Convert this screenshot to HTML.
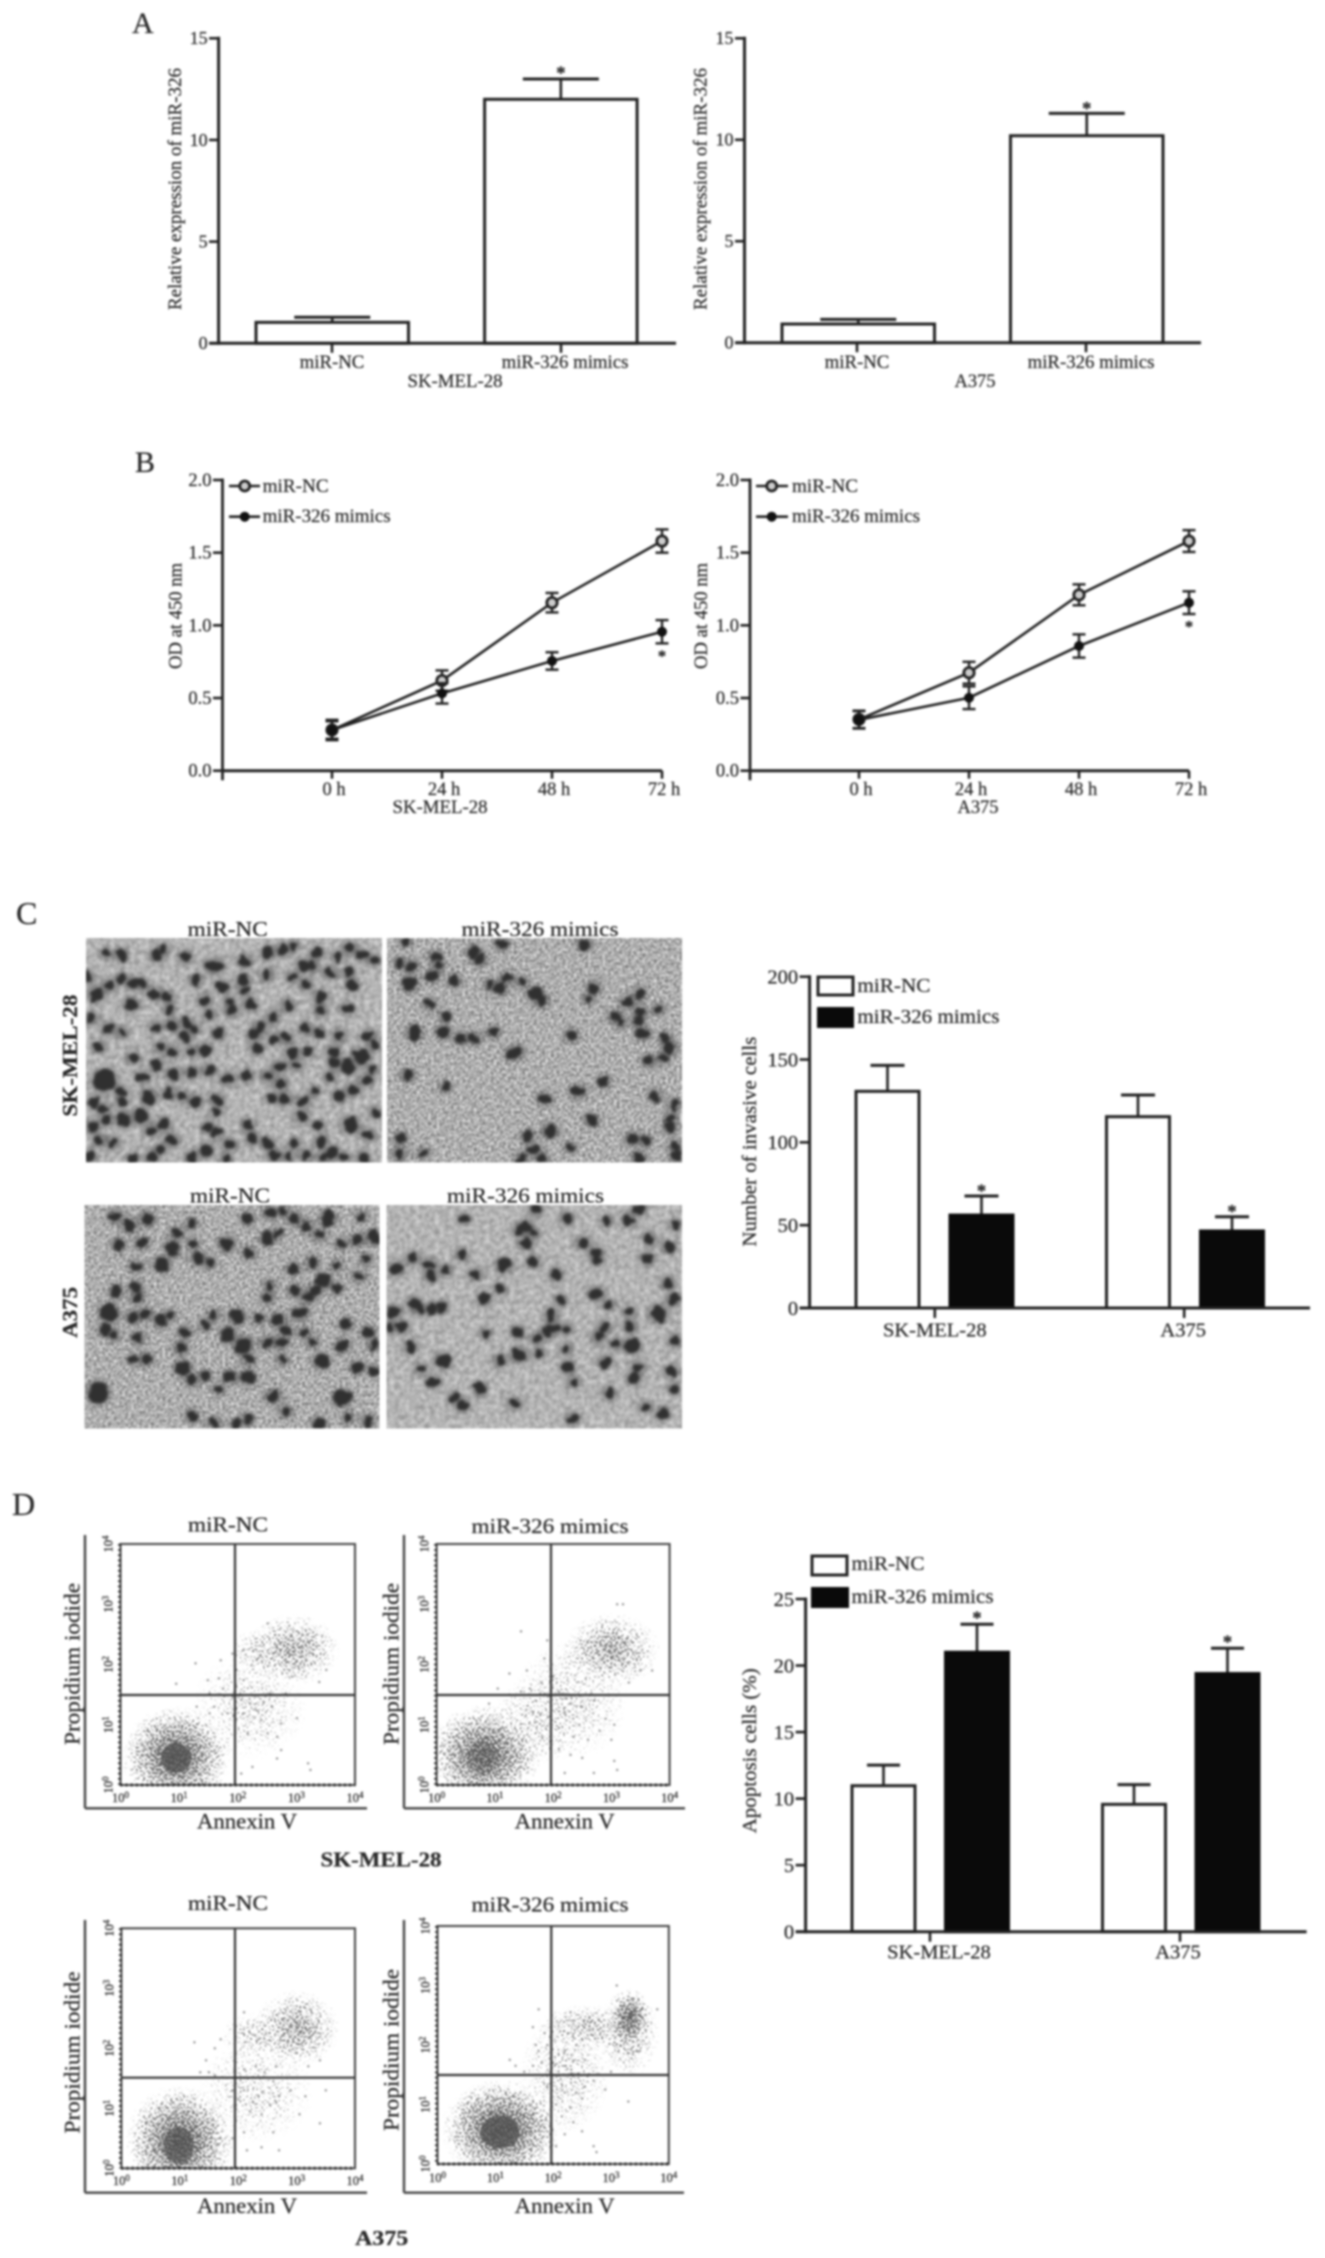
<!DOCTYPE html>
<html lang="en">
<head>
<meta charset="utf-8">
<title>miR-326 mimics: expression, proliferation, invasion and apoptosis</title>
<style>
html,body{margin:0;padding:0;background:#fff}
svg{display:block}
text{font-family:"Liberation Serif",serif;fill:#2a2a2a;stroke:#2a2a2a;stroke-width:0.25}
</style>
</head>
<body>
<svg id="figure" width="1325" height="2258" viewBox="0 0 1325 2258">
<defs>
  <filter id="soft" filterUnits="userSpaceOnUse" x="0" y="0" width="1325" height="2258" color-interpolation-filters="sRGB"><feGaussianBlur stdDeviation="0.95"/></filter>
  <filter id="cellBlur" filterUnits="userSpaceOnUse" x="0" y="900" width="700" height="560" color-interpolation-filters="sRGB">
    <feTurbulence type="fractalNoise" baseFrequency="0.09" numOctaves="2" seed="3" result="w"/>
    <feDisplacementMap in="SourceGraphic" in2="w" scale="8" xChannelSelector="R" yChannelSelector="G"/>
    <feGaussianBlur stdDeviation="1.1"/>
  </filter>
  <filter id="haloBlur" filterUnits="userSpaceOnUse" x="0" y="900" width="700" height="560" color-interpolation-filters="sRGB"><feGaussianBlur stdDeviation="2.5"/></filter>
  <filter id="texSmooth" x="0" y="0" width="100%" height="100%" color-interpolation-filters="sRGB">
    <feTurbulence type="fractalNoise" baseFrequency="0.2" numOctaves="2" seed="4"/>
    <feColorMatrix type="matrix" values="0.35 0 0 0 0.53  0.35 0 0 0 0.53  0.35 0 0 0 0.53  0 0 0 0 1"/>
  </filter>
  <filter id="texGrain" x="0" y="0" width="100%" height="100%" color-interpolation-filters="sRGB">
    <feTurbulence type="fractalNoise" baseFrequency="0.35" numOctaves="2" seed="9"/>
    <feColorMatrix type="matrix" values="0.7 0 0 0 0.33  0.7 0 0 0 0.33  0.7 0 0 0 0.33  0 0 0 0 1"/>
  </filter>
  <filter id="speckle" x="-5%" y="-5%" width="110%" height="110%" color-interpolation-filters="sRGB">
    <feTurbulence type="fractalNoise" baseFrequency="0.55" numOctaves="1" seed="7" result="n"/>
    <feColorMatrix in="n" type="matrix" values="0 0 0 0 0  0 0 0 0 0  0 0 0 0 0  3 0 0 0 -1" result="m"/>
    <feComposite in="SourceAlpha" in2="m" operator="arithmetic" k1="0" k2="1" k3="1" k4="-1" result="c"/>
    <feColorMatrix in="c" type="matrix" values="0 0 0 0 0.36  0 0 0 0 0.36  0 0 0 0 0.36  0 0 0 3 0"/>
  </filter>
  <radialGradient id="density">
    <stop offset="0" stop-color="#000" stop-opacity="1"/>
    <stop offset="0.35" stop-color="#000" stop-opacity="0.78"/>
    <stop offset="0.7" stop-color="#000" stop-opacity="0.42"/>
    <stop offset="1" stop-color="#000" stop-opacity="0"/>
  </radialGradient>
</defs>

<g id="art" filter="url(#soft)">
  <rect x="0" y="0" width="1325" height="2258" fill="#fff"/>

  <!-- Panel letters -->
  <text x="132" y="33" font-size="30">A</text>
  <text x="135" y="472" font-size="30">B</text>
  <text x="16" y="924" font-size="32">C</text>
  <text x="12" y="1515" font-size="32">D</text>

  <!-- Panel A titles -->
  <text transform="translate(181,189) rotate(-90)" text-anchor="middle" font-size="19" textLength="242" lengthAdjust="spacingAndGlyphs">Relative expression of miR-326</text>
  <text x="455" y="387" text-anchor="middle" font-size="19" textLength="95" lengthAdjust="spacingAndGlyphs">SK-MEL-28</text>
  <text transform="translate(706.5,189) rotate(-90)" text-anchor="middle" font-size="19" textLength="242" lengthAdjust="spacingAndGlyphs">Relative expression of miR-326</text>
  <text x="975" y="387" text-anchor="middle" font-size="19" textLength="41" lengthAdjust="spacingAndGlyphs">A375</text>

  <!-- Panel B titles and legends -->
  <text transform="translate(181.5,616) rotate(-90)" text-anchor="middle" font-size="19" textLength="106" lengthAdjust="spacingAndGlyphs">OD at 450 nm</text>
  <text x="440" y="813" text-anchor="middle" font-size="19" textLength="95" lengthAdjust="spacingAndGlyphs">SK-MEL-28</text>
  <text transform="translate(707,616) rotate(-90)" text-anchor="middle" font-size="19" textLength="106" lengthAdjust="spacingAndGlyphs">OD at 450 nm</text>
  <text x="978" y="813" text-anchor="middle" font-size="19" textLength="41" lengthAdjust="spacingAndGlyphs">A375</text>

  <g>
    <line x1="229" y1="486" x2="260" y2="486" stroke="#222" stroke-width="2.6"/>
    <circle cx="244.7" cy="486" r="5" fill="#ccc" stroke="#222" stroke-width="2.8"/>
    <text x="262.6" y="492" font-size="19" textLength="66" lengthAdjust="spacingAndGlyphs">miR-NC</text>
    <line x1="229" y1="516.7" x2="260" y2="516.7" stroke="#222" stroke-width="2.6"/>
    <circle cx="244.7" cy="516.7" r="5" fill="#111"/>
    <text x="262.6" y="522" font-size="19" textLength="128" lengthAdjust="spacingAndGlyphs">miR-326 mimics</text>
  </g>
  <g>
    <line x1="756" y1="486" x2="788" y2="486" stroke="#222" stroke-width="2.6"/>
    <circle cx="771.7" cy="486" r="5" fill="#ccc" stroke="#222" stroke-width="2.8"/>
    <text x="792" y="492" font-size="19" textLength="66" lengthAdjust="spacingAndGlyphs">miR-NC</text>
    <line x1="756" y1="516.7" x2="788" y2="516.7" stroke="#222" stroke-width="2.6"/>
    <circle cx="771.7" cy="516.7" r="5" fill="#111"/>
    <text x="792" y="522" font-size="19" textLength="128" lengthAdjust="spacingAndGlyphs">miR-326 mimics</text>
  </g>

  <!-- Panel C labels -->
  <text x="227.7" y="936" text-anchor="middle" font-size="21" textLength="80" lengthAdjust="spacingAndGlyphs">miR-NC</text>
  <text x="540" y="936" text-anchor="middle" font-size="21" textLength="157" lengthAdjust="spacingAndGlyphs">miR-326 mimics</text>
  <text x="230" y="1202.6" text-anchor="middle" font-size="21" textLength="80" lengthAdjust="spacingAndGlyphs">miR-NC</text>
  <text x="525.5" y="1202.6" text-anchor="middle" font-size="21" textLength="157" lengthAdjust="spacingAndGlyphs">miR-326 mimics</text>
  <text transform="translate(77,1055.6) rotate(-90)" text-anchor="middle" font-size="21" font-weight="bold" textLength="122" lengthAdjust="spacingAndGlyphs">SK-MEL-28</text>
  <text transform="translate(77,1312.4) rotate(-90)" text-anchor="middle" font-size="21" font-weight="bold" textLength="51" lengthAdjust="spacingAndGlyphs">A375</text>

  <!-- Panel C bar chart titles and legend -->
  <text transform="translate(755.8,1141.7) rotate(-90)" text-anchor="middle" font-size="20.5" textLength="210" lengthAdjust="spacingAndGlyphs">Number of invasive cells</text>
  <g>
    <rect x="818" y="977" width="35" height="18" fill="#fff" stroke="#222" stroke-width="3"/>
    <text x="857.4" y="992" font-size="20.5" textLength="73" lengthAdjust="spacingAndGlyphs">miR-NC</text>
    <rect x="817" y="1007" width="37" height="21" fill="#0a0a0a"/>
    <text x="857.4" y="1023" font-size="20.5" textLength="142" lengthAdjust="spacingAndGlyphs">miR-326 mimics</text>
  </g>

  <!-- Panel D bar chart titles and legend -->
  <text transform="translate(755.8,1750.8) rotate(-90)" text-anchor="middle" font-size="20.5" textLength="165" lengthAdjust="spacingAndGlyphs">Apoptosis cells (%)</text>
  <g>
    <rect x="812" y="1556" width="35" height="19" fill="#fff" stroke="#222" stroke-width="3"/>
    <text x="851.5" y="1570" font-size="20.5" textLength="73" lengthAdjust="spacingAndGlyphs">miR-NC</text>
    <rect x="811" y="1587" width="38" height="21" fill="#0a0a0a"/>
    <text x="851.5" y="1603" font-size="20.5" textLength="142" lengthAdjust="spacingAndGlyphs">miR-326 mimics</text>
  </g>

  <!-- Panel D flow labels -->
  <text x="228" y="1531.7" text-anchor="middle" font-size="21" textLength="80" lengthAdjust="spacingAndGlyphs">miR-NC</text>
  <text x="550" y="1533" text-anchor="middle" font-size="21" textLength="157" lengthAdjust="spacingAndGlyphs">miR-326 mimics</text>
  <text x="228" y="1910" text-anchor="middle" font-size="21" textLength="80" lengthAdjust="spacingAndGlyphs">miR-NC</text>
  <text x="550" y="1911.7" text-anchor="middle" font-size="21" textLength="157" lengthAdjust="spacingAndGlyphs">miR-326 mimics</text>
  <text transform="translate(79.5,1664) rotate(-90)" text-anchor="middle" font-size="22" textLength="162" lengthAdjust="spacingAndGlyphs">Propidium  iodide</text>
  <text transform="translate(398.7,1664) rotate(-90)" text-anchor="middle" font-size="22" textLength="162" lengthAdjust="spacingAndGlyphs">Propidium  iodide</text>
  <text transform="translate(79.5,2052.5) rotate(-90)" text-anchor="middle" font-size="22" textLength="162" lengthAdjust="spacingAndGlyphs">Propidium  iodide</text>
  <text transform="translate(398.7,2050) rotate(-90)" text-anchor="middle" font-size="22" textLength="162" lengthAdjust="spacingAndGlyphs">Propidium  iodide</text>
  <text x="247" y="1828.3" text-anchor="middle" font-size="22" textLength="100" lengthAdjust="spacingAndGlyphs">Annexin V</text>
  <text x="564.7" y="1828.3" text-anchor="middle" font-size="22" textLength="100" lengthAdjust="spacingAndGlyphs">Annexin V</text>
  <text x="247" y="2213" text-anchor="middle" font-size="22" textLength="100" lengthAdjust="spacingAndGlyphs">Annexin V</text>
  <text x="564.7" y="2213" text-anchor="middle" font-size="22" textLength="100" lengthAdjust="spacingAndGlyphs">Annexin V</text>
  <text x="381" y="1866.7" text-anchor="middle" font-size="21" font-weight="bold" textLength="121" lengthAdjust="spacingAndGlyphs">SK-MEL-28</text>
  <text x="381.7" y="2245" text-anchor="middle" font-size="21" font-weight="bold" textLength="53" lengthAdjust="spacingAndGlyphs">A375</text>

  <g id="dynamic"></g>
</g>
</svg>

<script>
/* ---------- Chart data ---------- */
const exprCategories = ['miR-NC', 'miR-326 mimics'];
const exprTicks = [0, 5, 10, 15];
const exprSkMel = [1.03, 12.0];
const exprSkMelSd = [0.25, 1.0];
const exprA375 = [0.92, 10.2];
const exprA375Sd = [0.23, 1.1];

const odTimes = ['0 h', '24 h', '48 h', '72 h'];
const odTicks = ['0.0', '0.5', '1.0', '1.5', '2.0'];
const odSkMelNc = [0.28, 0.62, 1.156, 1.58];
const odSkMelNcSd = [0.06, 0.07, 0.067, 0.08];
const odSkMelMimics = [0.28, 0.532, 0.755, 0.956];
const odSkMelMimicsSd = [0.07, 0.07, 0.06, 0.08];
const odA375Nc = [0.353, 0.674, 1.21, 1.58];
const odA375NcSd = [0.06, 0.075, 0.072, 0.075];
const odA375Mimics = [0.35, 0.502, 0.858, 1.156];
const odA375MimicsSd = [0.06, 0.078, 0.08, 0.078];

const cellLines = ['SK-MEL-28', 'A375'];
const invasionTicks = [0, 50, 100, 150, 200];
const invasionNc = [130.8, 115.5];
const invasionNcSd = [15.7, 13.1];
const invasionMimics = [56.1, 46.5];
const invasionMimicsSd = [11.5, 8.6];

const apoptosisTicks = [0, 5, 10, 15, 20, 25];
const apoptosisNc = [10.97, 9.57];
const apoptosisNcSd = [1.55, 1.48];
const apoptosisMimics = [21.0, 19.4];
const apoptosisMimicsSd = [2.1, 1.9];

const flowExponents = [0, 1, 2, 3, 4];

/* flow populations: log10 annexin / log10 PI centre, log10 spread, relative density */
const flowTLCentreX = [0.95, 0.95, 2.95, 2.4, 2.2];
const flowTLCentreY = [0.47, 0.45, 2.25, 2.2, 1.3];
const flowTLSpreadX = [0.95, 0.42, 0.8, 0.55, 1.0];
const flowTLSpreadY = [0.85, 0.40, 0.6, 0.4, 0.9];
const flowTLDensity = [0.95, 1, 0.6, 0.42, 0.3];
const flowTLAnnexin = [1.28,0.95,1.49,1.68,1.71,1.91,2.10,1.98,2.10,1.52,1.75,1.91,2.06,2.21,2.44,2.59,2.10,2.32,2.40,2.74,3.01,2.51,2.67,2.74,2.67,2.25,3.20,3.24,2.06,2.17,1.30,1.52,1.60,1.83,3.39,3.51,2.93,2.51,2.55,2.82];
const flowTLPi = [2.02,1.68,1.74,1.77,2.07,2.18,2.24,1.91,1.74,1.52,1.60,1.47,1.41,1.35,1.38,1.30,1.19,1.24,1.08,1.02,1.11,0.86,0.80,0.58,0.44,0.30,0.36,0.25,0.19,0.86,1.30,1.19,1.30,1.19,1.71,1.91,1.80,2.68,1.52,1.52];

const flowTRCentreX = [0.82, 0.8, 3.0, 1.7, 3.1, 2.3];
const flowTRCentreY = [0.5, 0.45, 2.24, 1.05, 2.35, 1.4];
const flowTRSpreadX = [1.0, 0.45, 0.85, 0.75, 0.32, 1.0];
const flowTRSpreadY = [0.85, 0.42, 0.62, 0.75, 0.35, 1.0];
const flowTRDensity = [0.92, 0.85, 0.62, 0.36, 0.55, 0.32];
const flowTRAnnexin = [1.45,1.9,1.85,1.55,1.25,1.05,0.9,1.25,1.45,1.6,1.7,1.8,2.0,2.1,2.2,2.3,2.45,2.5,2.7,2.9,2.1,2.35,2.6,2.8,3.0,3.05,3.1,3.05,3.1,3.2,2.1,2.3,2.5,2.7,2.2,3.5,3.3,3.7];
const flowTRPi = [2.55,2.4,2.1,1.9,1.85,1.6,1.35,1.5,1.55,1.6,1.4,1.7,1.8,1.55,1.2,1.35,1.0,1.3,1.4,1.1,0.95,0.8,0.75,0.9,0.75,0.4,0.25,1.0,3.0,3.0,0.6,0.5,0.45,0.2,0.2,1.9,1.7,1.9];

const flowBLCentreX = [1.0, 0.98, 3.0, 2.3, 2.3];
const flowBLCentreY = [0.45, 0.38, 2.33, 2.2, 1.3];
const flowBLSpreadX = [0.95, 0.42, 0.75, 0.6, 1.0];
const flowBLSpreadY = [0.95, 0.5, 0.65, 0.4, 0.9];
const flowBLDensity = [0.95, 1, 0.62, 0.4, 0.3];
const flowBLAnnexin = [1.25,1.6,1.7,1.45,1.35,1.5,1.6,2.1,2.3,2.45,2.65,2.6,1.9,2.0,2.1,2.25,2.35,2.55,2.65,2.7,2.9,3.15,3.5,2.2,2.4,3.05,3.4,2.6,2.7,2.4,2.1,2.15,1.9,3.2,3.4,2.85,2.1];
const flowBLPi = [2.1,2.0,2.15,1.8,1.6,1.6,1.55,1.65,1.7,1.6,1.7,1.45,1.3,1.15,1.3,1.1,1.2,1.05,1.1,1.2,1.3,1.2,1.3,0.95,0.9,0.9,0.75,0.6,0.3,0.35,0.6,0.3,0.5,1.7,1.8,2.1,2.6];

const flowBRCentreX = [1.1, 1.08, 3.32, 2.6, 3.3, 2.2];
const flowBRCentreY = [0.58, 0.54, 2.45, 2.3, 2.2, 1.5];
const flowBRSpreadX = [1.05, 0.55, 0.38, 0.9, 0.55, 0.8];
const flowBRSpreadY = [0.85, 0.45, 0.5, 0.38, 0.75, 1.0];
const flowBRDensity = [0.98, 1, 0.95, 0.52, 0.52, 0.36];
const flowBRAnnexin = [1.25,1.35,1.5,1.65,1.8,1.75,1.85,1.9,1.7,1.65,2.0,2.2,2.4,2.55,2.6,2.55,2.4,2.5,2.2,2.3,2.7,2.9,3.3,2.35,2.2,2.5,2.7,2.75,2.05,2.15,2.05,1.9,3.8,3.1,2.3,1.75,3.5,3.0];
const flowBRPi = [1.75,1.65,1.55,1.65,1.7,1.9,2.2,2.0,2.0,2.3,1.7,1.9,2.0,1.75,1.5,1.3,1.2,1.1,1.2,0.95,1.4,1.25,1.05,0.7,0.5,0.55,0.3,0.2,0.3,0.8,1.0,1.3,2.6,3.0,2.55,2.6,1.9,1.55];

/* ---------- Micrograph appearance (image texture, not chart data) ---------- */
const cellsTL = "238,205 272,210 350,212 365,195 415,215 480,240,1.5 548,225,1.3 600,203 632,197 658,185 710,205 680,238 755,215 785,190 812,210 840,225 700,240 438,280 275,275 245,295 300,290 318,290 215,318,1.3 195,270 295,348,1.5 345,318 372,325 380,362 458,335 500,298 515,340 545,280 598,265 655,270 685,290 740,260 780,258 790,293 518,365 548,310 562,348 645,350 718,328,1.4 718,365 778,358 470,375 612,382 205,385 350,412 385,403 418,400 435,415 490,430 245,415 275,425 570,430 583,410 613,445 685,415 640,440 715,425 760,435 825,435 358,465 385,480 415,440 430,480 460,475 298,497 222,465 575,470 655,480 690,480 745,480 810,490,1.4 840,460 350,515 628,520 665,515 750,510 780,518,1.5 835,530 235,560,2.1 320,550 388,543,1.3 428,538 468,532 510,555,1.3 553,547 600,547 738,550 630,568 820,560 272,590 333,605,1.3 378,595 408,603 438,617 485,612 610,608 638,612 680,618 705,590 760,603 790,585 272,618 210,620 232,640 485,648 278,668,1.3 315,660,1.3 238,670 368,680 675,660 840,650 208,688 340,698 465,690 555,685 785,682,1.5 712,685 485,705 825,712 385,725,1.3 222,725 253,733 360,750 565,722 600,737 660,735 720,730 515,738 462,755,1.4 745,760 428,775 298,778 340,772 615,768 645,770 685,768 725,775 770,775 815,775 200,770 505,780";
const cellsTR = "908,172 1125,178 1310,178 895,232 922,240 975,215 982,242 1060,200 1075,222 968,268,1.2 918,290,1.3 1018,282 1097,293 1120,302 1135,275 1168,285 1200,318,1.2 1215,337 1318,332 1330,300 962,347 997,382 1432,318 1405,340 1475,362 1435,368 1378,380 1390,398 1430,395 1440,430 1490,440 1500,468,1.2 928,427,1.2 992,425,1.3 1032,442 1062,442 1105,425,1.2 1280,433 1153,482,1.3 1485,498 1455,505 912,545 997,577 1352,563 1295,590,1.2 1220,610,1.3 1468,602 1512,628 1500,665 1502,690 1325,670 1232,700,1.6 1182,715 1195,752 1278,745 898,722 895,765 948,762 1415,722 1445,725 1512,743 1430,775 1168,778 1215,775 1515,770";
const cellsBL = "258,938,1.3 330,945,1.2 290,965,1.2 430,958 555,945 605,930 635,925 660,945 735,945,1.3 810,938 840,1000 395,985 265,1018,1.2 318,1012 385,1020 432,1015 508,1015,1.3 600,1000,1.2 622,985 685,965 715,990 765,1015 800,1005 835,995 388,1040 558,1040 445,1055,1.2 470,1070 362,1073,1.3 305,1078 820,1058 700,1067 658,1085 755,1075 725,1118,1.3 805,1105 605,1130 660,1145 705,1145 755,1140 305,1135 260,1150 308,1165,1.2 600,1165 690,1165 245,1208,2 298,1220 325,1212 380,1215 360,1232 530,1218,1.3 480,1215 620,1225 672,1210,1.3 580,1225 640,1255 235,1255 255,1270 310,1278 415,1262 460,1240 510,1268,1.3 600,1290,1.2 682,1262 775,1240 825,1262 405,1305,1.3 545,1298,1.6 632,1290 700,1290 767,1300,1.2 838,1297 300,1337 328,1337 555,1338 632,1338 720,1342,1.3 800,1360 838,1370 410,1360,1.3 430,1395 460,1385 515,1385 555,1388,1.3 490,1420 220,1430,1.9 612,1440,1.2 767,1445,1.9 430,1495 480,1515 555,1505 640,1483 715,1515 780,1500 825,1510 530,1520";
const cellsBR = "1040,945 1200,920 1270,945 1360,950 1408,950 1430,920 1515,962 1180,968 1165,975 1195,985 1178,1015 1305,1012 1035,1048 925,1055 1335,1040 1338,1060 1455,1000 1498,1025 1450,1055,1.3 888,1085,1.2 962,1072 1000,1088 965,1105 1130,1075,1.3 1065,1100,1.2 1195,1065 1245,1100 1120,1140 1085,1170 1335,1155,1.2 1255,1172 1495,1125 1510,1170 1365,1185 928,1182 940,1197 968,1197 988,1192 882,1205,1.2 1410,1205 1475,1210,1.5 1235,1215 875,1248 900,1248 1240,1248 1268,1253 1410,1245 1355,1248 1088,1265 1160,1262 1225,1262 1200,1280 1340,1275 1415,1300,1.3 1378,1295 1512,1285 920,1302 1268,1310 992,1342,1.3 1163,1325,1.3 1208,1320 1120,1340 1355,1345 942,1365 1272,1360 1505,1372 1420,1390,1.2 1430,1360 970,1400 1285,1400 1075,1420 1365,1432 1018,1445 1037,1465 1153,1460 1445,1470 1485,1488 1282,1503 1510,1420";

/* ---------- Helpers ---------- */
const svgRoot = document.getElementById('figure');
const dyn = document.getElementById('dynamic');
const INK = '#222';

function mk(parent, tag, name, attrs, content) {
  const el = document.createElementNS(svgRoot.namespaceURI, tag);
  
  
  for (const k in attrs) el.setAttribute(k, attrs[k]);
  if (content !== undefined) el.textContent = content;
  parent.appendChild(el);
  return el;
}
function seg(parent, name, x1, y1, x2, y2, w, color) {
  return mk(parent, 'line', name, {x1: x1, y1: y1, x2: x2, y2: y2, stroke: color || INK, 'stroke-width': w || 3, 'stroke-linecap': 'butt'});
}
function linearY(yBase, yTop, lo, hi) {
  return function (v) { return yBase - (v - lo) / (hi - lo) * (yBase - yTop); };
}
function star(parent, name, cx, cy, fs) {
  return mk(parent, 'text', name, {x: cx, y: cy + fs * 0.47, 'text-anchor': 'middle', 'font-size': fs, 'font-weight': 'bold', fill: '#222'}, '*');
}

/* ---------- Bar charts ---------- */
function drawBarChart(cfg, ticks, categories, series) {
  const g = mk(dyn, 'g', cfg.name, {});
  const y = linearY(cfg.yBase, cfg.yTop, 0, ticks[ticks.length - 1]);
  series.forEach(function (s, si) {
    s.values.forEach(function (v, ci) {
      const left = cfg.left + ci * cfg.groupStep + si * cfg.barStep;
      const cx = left + cfg.barWidth / 2;
      const errTop = y(v + s.sd[ci]);
      seg(g, 'error-bar-' + s.key + '-' + ci, cx, y(v), cx, errTop, 2.6);
      seg(g, 'error-cap-' + s.key + '-' + ci, cx - cfg.cap / 2, errTop, cx + cfg.cap / 2, errTop, 3);
      mk(g, 'rect', 'bar-' + s.key + '-' + ci, {x: left, y: y(v), width: cfg.barWidth, height: cfg.yBase - y(v), fill: s.fill, stroke: s.fill === '#fff' ? INK : '#0a0a0a', 'stroke-width': 3});
      if (s.stars[ci]) star(g, 'significance-star-' + s.key + '-' + ci, cx, errTop - cfg.starGap, cfg.starSize);
    });
  });
  seg(g, 'y-axis', cfg.axisX, cfg.yTop - 1.5, cfg.axisX, cfg.yBase + 1.5, 3);
  seg(g, 'x-axis', cfg.axisX - cfg.tickLen, cfg.yBase, cfg.xEnd, cfg.yBase, 3);
  ticks.forEach(function (t) {
    seg(g, 'y-tick-' + t, cfg.axisX - cfg.tickLen, y(t), cfg.axisX, y(t), 2.6);
    mk(g, 'text', 'y-tick-label-' + t, {x: cfg.axisX - cfg.tickLen - 1.5, y: y(t) + cfg.font * 0.33, 'text-anchor': 'end', 'font-size': cfg.font}, String(t));
  });
  categories.forEach(function (c, i) {
    const tx = cfg.catX + i * cfg.catStep;
    seg(g, 'x-tick-' + i, tx, cfg.yBase, tx, cfg.yBase + cfg.tickLen, 2.6);
    mk(g, 'text', 'x-tick-label-' + i, {x: tx + cfg.catLabelDx[i], y: cfg.catBaseline, 'text-anchor': 'middle', 'font-size': cfg.catFont}, c);
  });
}

drawBarChart(
  {name: 'a-left-bar-chart', yBase: 343.3, yTop: 38.3, axisX: 218.6, xEnd: 676, tickLen: 9.5, left: 256, groupStep: 228.6, barStep: 0, barWidth: 152.5, cap: 76, starGap: 9, starSize: 19, font: 18, catX: 332, catStep: 229, catLabelDx: [0, 4], catBaseline: 368, catFont: 18.8},
  exprTicks, exprCategories,
  [{key: 'expression', values: exprSkMel, sd: exprSkMelSd, fill: '#fff', stars: [false, true]}]
);
drawBarChart(
  {name: 'a-right-bar-chart', yBase: 342.7, yTop: 38.3, axisX: 744.5, xEnd: 1201, tickLen: 9.5, left: 782, groupStep: 228.5, barStep: 0, barWidth: 152.5, cap: 76, starGap: 8, starSize: 19, font: 18, catX: 857, catStep: 229, catLabelDx: [0, 5], catBaseline: 368, catFont: 18.8},
  exprTicks, exprCategories,
  [{key: 'expression', values: exprA375, sd: exprA375Sd, fill: '#fff', stars: [false, true]}]
);
drawBarChart(
  {name: 'c-bar-chart', yBase: 1308, yTop: 976.7, axisX: 809.6, xEnd: 1310, tickLen: 10, left: 856, groupStep: 250.5, barStep: 94, barWidth: 63, cap: 34, starGap: 8, starSize: 19, font: 20.5, catX: 934.8, catStep: 249.4, catLabelDx: [0, -1], catBaseline: 1336.7, catFont: 20.5},
  invasionTicks, cellLines,
  [{key: 'nc', values: invasionNc, sd: invasionNcSd, fill: '#fff', stars: [false, false]},
   {key: 'mimics', values: invasionMimics, sd: invasionMimicsSd, fill: '#0a0a0a', stars: [true, true]}]
);
drawBarChart(
  {name: 'd-bar-chart', yBase: 1931.7, yTop: 1599, axisX: 805.6, xEnd: 1306.6, tickLen: 10, left: 852, groupStep: 250.5, barStep: 93.5, barWidth: 63, cap: 33, starGap: 9, starSize: 19, font: 20.5, catX: 930, catStep: 250, catLabelDx: [9, -2], catBaseline: 1958.3, catFont: 20.5},
  apoptosisTicks, cellLines,
  [{key: 'nc', values: apoptosisNc, sd: apoptosisNcSd, fill: '#fff', stars: [false, false]},
   {key: 'mimics', values: apoptosisMimics, sd: apoptosisMimicsSd, fill: '#0a0a0a', stars: [true, true]}]
);

/* ---------- Line charts ---------- */
function drawLineChart(cfg, ticks, times, nc, ncSd, mim, mimSd) {
  const g = mk(dyn, 'g', cfg.name, {});
  const y = linearY(cfg.yBase, cfg.yTop, Number(ticks[0]), Number(ticks[ticks.length - 1]));
  const x = function (i) { return cfg.x0 + i * cfg.step; };
  seg(g, 'y-axis', cfg.axisX, cfg.yTop - 1.5, cfg.axisX, cfg.yBase + 9.5, 2.8);
  seg(g, 'x-axis', cfg.axisX, cfg.yBase, x(times.length - 1), cfg.yBase, 3);
  ticks.forEach(function (t) {
    const v = Number(t);
    seg(g, 'y-tick-' + t, cfg.axisX - 9.5, y(v), cfg.axisX, y(v), 2.6);
    mk(g, 'text', 'y-tick-label-' + t, {x: cfg.axisX - 11, y: y(v) + 6, 'text-anchor': 'end', 'font-size': 18.5}, t);
  });
  times.forEach(function (t, i) {
    seg(g, 'x-tick-' + t.replace(' ', ''), x(i), cfg.yBase, x(i), cfg.yBase + 8, 2.6);
    mk(g, 'text', 'x-tick-label-' + t.replace(' ', ''), {x: x(i) + 2, y: 795, 'text-anchor': 'middle', 'font-size': 18.5}, t);
  });
  function series(key, vals, sd, open) {
    mk(g, 'polyline', 'line-' + key, {points: vals.map(function (v, i) { return x(i) + ',' + y(v); }).join(' '), fill: 'none', stroke: INK, 'stroke-width': 2.6});
    vals.forEach(function (v, i) {
      const cx = x(i);
      seg(g, 'error-bar-' + key + '-' + i, cx, y(v - sd[i]), cx, y(v + sd[i]), 2.4);
      seg(g, 'error-cap-top-' + key + '-' + i, cx - 6.5, y(v + sd[i]), cx + 6.5, y(v + sd[i]), 2.4);
      seg(g, 'error-cap-bottom-' + key + '-' + i, cx - 6.5, y(v - sd[i]), cx + 6.5, y(v - sd[i]), 2.4);
      if (open) mk(g, 'circle', 'point-' + key + '-' + i, {cx: cx, cy: y(v), r: 5.2, fill: '#ccc', stroke: INK, 'stroke-width': 2.8});
      else mk(g, 'circle', 'point-' + key + '-' + i, {cx: cx, cy: y(v), r: 5, fill: '#111'});
    });
  }
  series('nc', nc, ncSd, true);
  series('mimics', mim, mimSd, false);
  const last = times.length - 1;
  star(g, 'significance-star', x(last), y(mim[last] - mimSd[last]) + 10, 17);
}
drawLineChart({name: 'b-left-line-chart', yBase: 770.7, yTop: 480, axisX: 222.5, x0: 332, step: 110},
  odTicks, odTimes, odSkMelNc, odSkMelNcSd, odSkMelMimics, odSkMelMimicsSd);
drawLineChart({name: 'b-right-line-chart', yBase: 770.7, yTop: 480, axisX: 750, x0: 859, step: 110},
  odTicks, odTimes, odA375Nc, odA375NcSd, odA375Mimics, odA375MimicsSd);

/* ---------- Micrographs ---------- */
function drawMicrograph(name, box, cells, texture, base) {
  const g = mk(dyn, 'g', name, {});
  const clip = mk(g, 'clipPath', name + '-clip', {id: name + '-clip'});
  mk(clip, 'rect', name + '-clip-rect', {x: box.x, y: box.y, width: box.w, height: box.h});
  mk(g, 'rect', name + '-background', {x: box.x, y: box.y, width: box.w, height: box.h, filter: 'url(#' + texture + ')', fill: base});
  const halo = mk(g, 'g', name + '-cell-halos', {'clip-path': 'url(#' + name + '-clip)', filter: 'url(#haloBlur)'});
  const core = mk(g, 'g', name + '-cells', {'clip-path': 'url(#' + name + '-clip)', filter: 'url(#cellBlur)'});
  cells.split(' ').forEach(function (c, i) {
    const p = c.split(',').map(Number);
    const s = p[2] || 1;
    const cx = p[0] / 2.24, cy = 880 + p[1] / 2.79;
    const rx = (4.8 + (i % 3) * 0.7) * s, ry = (3.8 + ((i * 2) % 3) * 0.6) * s;
    const rot = 'rotate(' + ((i * 37) % 180) + ' ' + cx + ' ' + cy + ')';
    mk(halo, 'ellipse', 'cell-halo', {cx: cx, cy: cy, rx: rx + 3.5, ry: ry + 3.5, fill: '#555', opacity: 0.45});
    mk(core, 'ellipse', 'cell', {cx: cx, cy: cy, rx: rx, ry: ry, fill: '#303030', transform: rot});
  });
}
drawMicrograph('micrograph-sk-mel-28-nc', {x: 86, y: 938.4, w: 295.7, h: 224}, cellsTL, 'texSmooth', '#b5b5b5');
drawMicrograph('micrograph-sk-mel-28-mimics', {x: 387, y: 938.4, w: 295, h: 224}, cellsTR, 'texGrain', '#b0b0b0');
drawMicrograph('micrograph-a375-nc', {x: 84.8, y: 1205, w: 294.7, h: 223.4}, cellsBL, 'texGrain', '#b0b0b0');
drawMicrograph('micrograph-a375-mimics', {x: 386.6, y: 1205, w: 295.4, h: 223.4}, cellsBR, 'texSmooth', '#b0b0b0');

/* ---------- Flow cytometry plots ---------- */
function drawFlow(cfg, exponents, cX, cY, sX, sY, dens, annexin, pi) {
  const g = mk(dyn, 'g', cfg.name, {});
  const lo = exponents[0], hi = exponents[exponents.length - 1];
  const fx = function (v) { return cfg.left + (v - lo) / (hi - lo) * (cfg.right - cfg.left); };
  const fy = function (v) { return cfg.bottom - (v - lo) / (hi - lo) * (cfg.bottom - cfg.top); };
  const clip = mk(g, 'clipPath', cfg.name + '-clip', {id: cfg.name + '-clip'});
  mk(clip, 'rect', cfg.name + '-clip-rect', {x: cfg.left, y: cfg.top, width: cfg.right - cfg.left, height: cfg.bottom - cfg.top});
  const pops = mk(g, 'g', cfg.name + '-populations', {'clip-path': 'url(#' + cfg.name + '-clip)'});
  cX.forEach(function (c, i) {
    const rx = fx(sX[i]) - fx(0), ry = fy(0) - fy(sY[i]);
    mk(pops, 'ellipse', 'population-' + i, {cx: fx(c), cy: fy(cY[i]), rx: rx, ry: ry, fill: 'url(#density)', 'fill-opacity': dens[i], filter: 'url(#speckle)'});
    if (i === 1 && cfg.core) mk(pops, 'ellipse', 'population-core', {cx: fx(c), cy: fy(cY[i]), rx: rx * 0.62, ry: ry * 0.62, fill: '#505050', opacity: cfg.core});
  });
  annexin.forEach(function (a, i) {
    mk(g, 'rect', 'event-' + i, {x: fx(a) - 1, y: fy(pi[i]) - 1, width: 2, height: 2, fill: '#888'});
  });
  mk(g, 'rect', 'plot-frame', {x: cfg.left, y: cfg.top, width: cfg.right - cfg.left, height: cfg.bottom - cfg.top, fill: 'none', stroke: '#444', 'stroke-width': 2});
  seg(g, 'quadrant-vertical', cfg.vline, cfg.top, cfg.vline, cfg.bottom, 2.2, '#333');
  seg(g, 'quadrant-horizontal', cfg.left, cfg.hline, cfg.right, cfg.hline, 2.2, '#333');
  mk(g, 'line', 'y-ruler', {x1: cfg.left - 1, y1: cfg.top, x2: cfg.left - 1, y2: cfg.bottom, stroke: '#222', 'stroke-width': 3, 'stroke-dasharray': '1.6 3.6'});
  mk(g, 'line', 'x-ruler', {x1: cfg.left, y1: cfg.bottom, x2: cfg.right, y2: cfg.bottom, stroke: '#222', 'stroke-width': 3, 'stroke-dasharray': '1.6 3.6'});
  seg(g, 'outer-y-axis', cfg.axisX, cfg.axisTop, cfg.axisX, cfg.axisBottom, 2.4, '#444');
  seg(g, 'outer-x-axis', cfg.axisX, cfg.axisBottom, cfg.axisRight, cfg.axisBottom, 2.4, '#444');
  exponents.forEach(function (e) {
    const xl = mk(g, 'text', 'x-tick-label-1e' + e, {x: fx(e), y: cfg.labelBaseline, 'text-anchor': 'middle', 'font-size': 12.5});
    xl.textContent = '10';
    mk(xl, 'tspan', 'x-tick-exponent', {dy: -4, 'font-size': 9}, String(e));
    const yl = mk(g, 'text', 'y-tick-label-1e' + e, {transform: 'translate(' + (cfg.left - 8) + ',' + fy(e) + ') rotate(-90)', 'text-anchor': 'middle', 'font-size': 12.5});
    yl.textContent = '10';
    mk(yl, 'tspan', 'y-tick-exponent', {dy: -4, 'font-size': 9}, String(e));
  });
}
drawFlow({name: 'flow-sk-mel-28-nc', left: 120.5, right: 355, top: 1544, bottom: 1785, hline: 1695, vline: 235, axisX: 85, axisTop: 1535, axisBottom: 1808.3, axisRight: 367, labelBaseline: 1802, core: 0.75},
  flowExponents, flowTLCentreX, flowTLCentreY, flowTLSpreadX, flowTLSpreadY, flowTLDensity, flowTLAnnexin, flowTLPi);
drawFlow({name: 'flow-sk-mel-28-mimics', left: 436.6, right: 669.6, top: 1544, bottom: 1785, hline: 1695, vline: 551, axisX: 404, axisTop: 1535, axisBottom: 1808.3, axisRight: 685, labelBaseline: 1802, core: 0.3},
  flowExponents, flowTRCentreX, flowTRCentreY, flowTRSpreadX, flowTRSpreadY, flowTRDensity, flowTRAnnexin, flowTRPi);
drawFlow({name: 'flow-a375-nc', left: 121.4, right: 355, top: 1928.3, bottom: 2168.3, hline: 2077.7, vline: 235, axisX: 85, axisTop: 1920, axisBottom: 2192.7, axisRight: 367, labelBaseline: 2185, core: 0.65},
  flowExponents, flowBLCentreX, flowBLCentreY, flowBLSpreadX, flowBLSpreadY, flowBLDensity, flowBLAnnexin, flowBLPi);
drawFlow({name: 'flow-a375-mimics', left: 437.5, right: 668.8, top: 1926, bottom: 2164, hline: 2075, vline: 551.3, axisX: 404, axisTop: 1920, axisBottom: 2192.7, axisRight: 684, labelBaseline: 2182, core: 0.75},
  flowExponents, flowBRCentreX, flowBRCentreY, flowBRSpreadX, flowBRSpreadY, flowBRDensity, flowBRAnnexin, flowBRPi);
</script>
</body>
</html>
